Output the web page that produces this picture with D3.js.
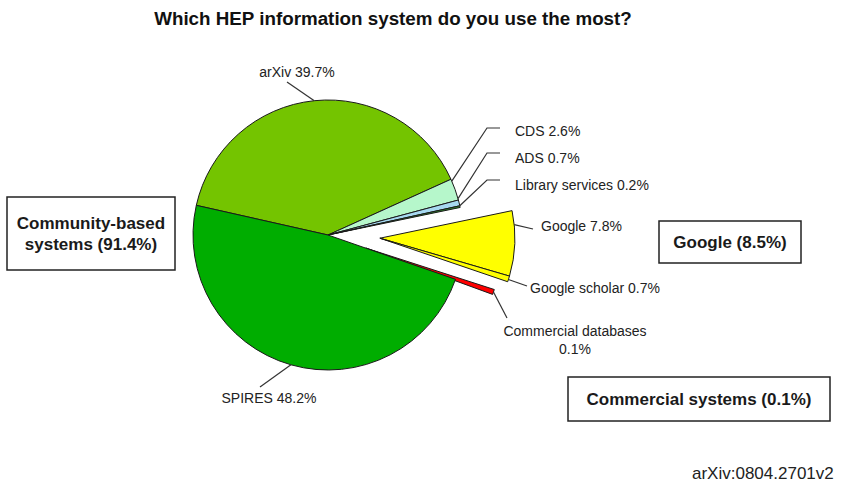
<!DOCTYPE html>
<html lang="en">
<head>
<meta charset="utf-8">
<title>HEP information systems</title>
<script src="https://cdn.jsdelivr.net/npm/d3@7"></script>
<style>
    body { margin: 0; background: #fff; }
    svg { display: block; font-family: "Liberation Sans", Arial, sans-serif; }
    .slice { stroke: #1a1a1a; stroke-width: 1; stroke-linejoin: round; }
    .leader { fill: none; stroke: #333; stroke-width: 1.2; }
    .lbl { font-size: 14px; fill: #222; }
    .box rect { fill: #fff; stroke: #222; stroke-width: 1.5; }
    .box text { font-size: 17px; font-weight: bold; fill: #1a1a1a; }
</style>
</head>
<body>
<script>
// data, clockwise from the arXiv slice
var categories = ['arXiv', 'CDS', 'ADS', 'Library services', 'Google', 'Google scholar', 'Commercial databases', 'SPIRES'];
var values = [39.7, 2.6, 0.7, 0.2, 7.8, 0.7, 0.1, 48.2];
var labelTexts = ['arXiv 39.7%', 'CDS 2.6%', 'ADS 0.7%', 'Library services 0.2%', 'Google 7.8%', 'Google scholar 0.7%', 'Commercial databases|0.1%', 'SPIRES 48.2%'];
var groupTexts = [['Community-based', 'systems (91.4%)'], ['Google (8.5%)'], ['Commercial systems (0.1%)']];
var title = 'Which HEP information system do you use the most?';
var source = 'arXiv:0804.2701v2';

var colors = ['#74c400', '#b6f7cb', '#a6d9f0', '#2f8f2f', '#ffff00', '#ffff00', '#ff0000', '#00ad00'];

var W = 845, H = 483;
var cx = 328, cy = 235, R = 135;
var deg = Math.PI / 180;

var svg = d3.select('body').append('svg').attr('width', W).attr('height', H);

svg.append('text')
    .attr('x', 393).attr('y', 18)
    .attr('text-anchor', 'middle').attr('dominant-baseline', 'central')
    .style('font-size', '18.8px').style('font-weight', 'bold').style('fill', '#111')
    .text(title);

var pie = d3.pie().sort(null).value(function (d) { return d; })
    .startAngle(-77.3 * deg).endAngle(-77.3 * deg + 2 * Math.PI);
var arcs = pie(values);

var arc = d3.arc().innerRadius(0).outerRadius(R);

// exploded slices: google pair moves together, commercial alone
var explode = {4: 52, 5: 52, 6: 40};
var gMid = (arcs[4].startAngle + arcs[5].endAngle) / 2;
function offsetOf(i) {
    var d = explode[i] || 0;
    var a = (i === 4 || i === 5) ? gMid : (arcs[i].startAngle + arcs[i].endAngle) / 2;
    return [d * Math.sin(a), -d * Math.cos(a)];
}

// thin slivers get a minimum drawn width so they stay visible
function shown(d, i) {
    var minA = i === 6 ? 2.2 * deg : 0;
    if (d.endAngle - d.startAngle >= minA) return d;
    var m = (d.startAngle + d.endAngle) / 2;
    return {startAngle: m - minA / 2, endAngle: m + minA / 2};
}

var g = svg.append('g').attr('transform', 'translate(' + cx + ',' + cy + ')');

g.selectAll('path.slice')
    .data(arcs)
    .enter().append('path')
    .attr('class', 'slice')
    .attr('transform', function (d, i) { return 'translate(' + offsetOf(i).join(',') + ')'; })
    .attr('d', function (d, i) { return arc(shown(d, i)); })
    .attr('fill', function (d, i) { return colors[i]; });

// label layout: elbow / end points of the leader and text position (page coords)
var layout = [
    {pts: [[287, 82]], tx: 297, ty: 72, anchor: 'middle'},
    {pts: [[487, 128], [500, 128]], tx: 515, ty: 131, anchor: 'start'},
    {pts: [[487, 153], [500, 153]], tx: 515, ty: 158, anchor: 'start'},
    {pts: [[487, 180], [500, 180]], tx: 515, ty: 185, anchor: 'start'},
    {pts: [[533, 229]], tx: 541, ty: 226, anchor: 'start'},
    {pts: [[527, 286]], tx: 530, ty: 288, anchor: 'start'},
    {pts: [[507, 318]], tx: 575, ty: 331, anchor: 'middle'},
    {pts: [[260, 387]], tx: 269, ty: 398, anchor: 'middle'}
];
var leaderAngle = {1: 23.5, 2: 15.6, 3: 12.5};

arcs.forEach(function (d, i) {
    var L = layout[i];
    var a = leaderAngle[i] !== undefined ? (90 - leaderAngle[i]) * deg : (d.startAngle + d.endAngle) / 2;
    if (i === 4) a = d.startAngle + 6 * deg;
    if (i === 5) a = d.endAngle - 1 * deg;
    var off = offsetOf(i);
    var start = [cx + off[0] + R * Math.sin(a), cy + off[1] - R * Math.cos(a)];
    svg.append('polyline')
        .attr('class', 'leader')
        .attr('points', [start].concat(L.pts).map(function (p) { return p.join(','); }).join(' '));
    var lines = labelTexts[i].split('|');
    lines.forEach(function (s, k) {
        svg.append('text')
            .attr('class', 'lbl')
            .attr('x', L.tx).attr('y', L.ty + k * 18)
            .attr('text-anchor', L.anchor).attr('dominant-baseline', 'central')
            .text(s);
    });
});

// group boxes
var boxes = [
    {x: 7, y: 197, w: 168, h: 73},
    {x: 659, y: 221, w: 142, h: 42},
    {x: 568, y: 377, w: 262, h: 44}
];
boxes.forEach(function (b, i) {
    var bg = svg.append('g').attr('class', 'box');
    bg.append('rect').attr('x', b.x).attr('y', b.y).attr('width', b.w).attr('height', b.h);
    var n = groupTexts[i].length;
    groupTexts[i].forEach(function (s, k) {
        bg.append('text')
            .attr('x', b.x + b.w / 2)
            .attr('y', b.y + b.h / 2 + (k - (n - 1) / 2) * 21)
            .attr('text-anchor', 'middle').attr('dominant-baseline', 'central')
            .text(s);
    });
});

svg.append('text')
    .attr('x', 692).attr('y', 479)
    .style('font-size', '17px').style('fill', '#222')
    .text(source);
</script>
</body>
</html>
